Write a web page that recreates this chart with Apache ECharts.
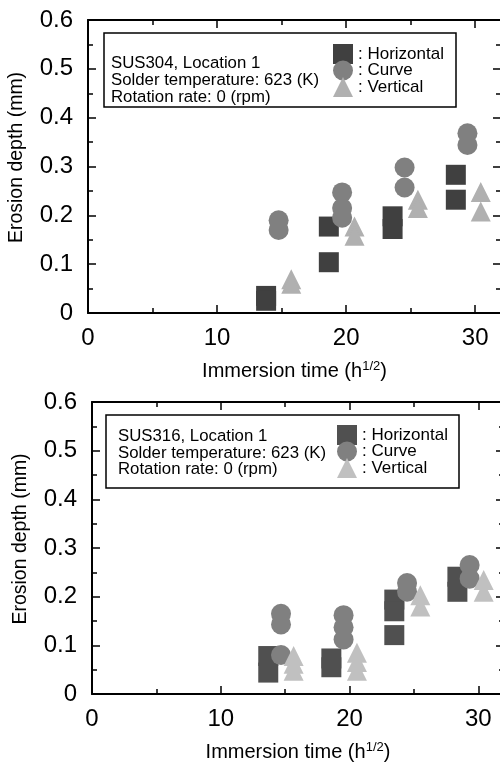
<!DOCTYPE html>
<html>
<head>
<meta charset="utf-8">
<script src="https://cdn.jsdelivr.net/npm/echarts@6/dist/echarts.min.js"></script>
<style>
html,body{margin:0;padding:0;background:#fff;}
#chart{width:500px;height:765px;}
</style>
</head>
<body>
<div id="chart"></div>
<script>
// ---- data (x: immersion time h^1/2, y: erosion depth mm) ----
const seriesNames = ['Horizontal', 'Curve', 'Vertical'];
const panelTitles = ['SUS304', 'SUS316'];
const xTickLabels = ['0', '10', '20', '30'];
const yTickLabels = ['0', '0.1', '0.2', '0.3', '0.4', '0.5', '0.6'];

const sus304Horizontal = [[13.8,0.035],[13.8,0.025],[18.66,0.177],[18.66,0.104],[23.6,0.198],[23.6,0.172],[28.5,0.283],[28.5,0.232]];
const sus304Curve = [[14.77,0.19],[14.77,0.17],[19.69,0.247],[19.69,0.215],[19.69,0.195],[24.53,0.298],[24.53,0.257],[29.4,0.368],[29.4,0.344]];
const sus304Vertical = [[15.75,0.069],[15.75,0.06],[20.65,0.177],[20.65,0.158],[25.56,0.232],[25.56,0.215],[30.43,0.248],[30.43,0.208]];

const sus316Horizontal = [[13.69,0.078],[13.69,0.044],[18.59,0.073],[18.59,0.055],[23.48,0.194],[23.48,0.17],[23.48,0.121],[28.38,0.241],[28.38,0.21]];
const sus316Curve = [[14.68,0.165],[14.68,0.143],[14.68,0.08],[19.54,0.162],[19.54,0.137],[19.54,0.112],[24.47,0.228],[24.47,0.21],[29.33,0.265],[29.33,0.237]];
const sus316Vertical = [[15.66,0.078],[15.66,0.062],[15.66,0.048],[20.58,0.085],[20.58,0.066],[20.58,0.048],[25.5,0.203],[25.5,0.18],[30.42,0.234],[30.42,0.21]];

const FONT = "'Liberation Sans', Arial, sans-serif";
const grids = [
  { left: 88, top: 20, width: 413, height: 293 },
  { left: 92, top: 402, width: 412, height: 292 }
];
const X_MIN = 0, X_MAX = 32, Y_MIN = 0, Y_MAX = 0.6;

const xAxes = [], yAxes = [];
grids.forEach((g, gi) => {
  const base = { gridIndex: gi, type: 'value', min: X_MIN, max: X_MAX, splitLine: { show: false } };
  xAxes.push(Object.assign({}, base, {
    position: 'bottom', interval: 10,
    axisLine: { onZero: false, lineStyle: { color: '#000', width: 2 } },
    axisTick: { inside: true, length: 8, lineStyle: { color: '#000', width: 1.5 } },
    axisLabel: { margin: 13, fontSize: 24, color: '#000', fontFamily: FONT, showMaxLabel: false,
      formatter: v => (xTickLabels.indexOf(String(v)) >= 0 ? String(v) : '') },
    name: 'Immersion time (h{sup|1/2})', nameLocation: 'middle', nameGap: 47,
    nameTextStyle: { fontSize: 20, color: '#000', fontFamily: FONT,
      rich: { sup: { fontSize: 13, fontFamily: FONT, color: '#000', padding: [0, 0, 10, 0] } } }
  }));
  xAxes.push(Object.assign({}, base, {
    position: 'bottom', interval: 5,
    axisLine: { show: false, onZero: false },
    axisTick: { inside: true, length: 5, lineStyle: { color: '#000', width: 1.5 } },
    axisLabel: { show: false }
  }));
  xAxes.push(Object.assign({}, base, {
    position: 'top', interval: 10,
    axisLine: { onZero: false, lineStyle: { color: '#000', width: 2 } },
    axisTick: { inside: true, length: 8, lineStyle: { color: '#000', width: 1.5 } },
    axisLabel: { show: false }
  }));
  xAxes.push(Object.assign({}, base, {
    position: 'top', interval: 5,
    axisLine: { show: false, onZero: false },
    axisTick: { inside: true, length: 5, lineStyle: { color: '#000', width: 1.5 } },
    axisLabel: { show: false }
  }));

  const ybase = { gridIndex: gi, type: 'value', min: Y_MIN, max: Y_MAX, splitLine: { show: false } };
  yAxes.push(Object.assign({}, ybase, {
    position: 'left', interval: 0.1,
    axisLine: { onZero: false, lineStyle: { color: '#000', width: 2 } },
    axisTick: { inside: true, length: 8, lineStyle: { color: '#000', width: 1.5 } },
    axisLabel: { margin: 15, fontSize: 24, color: '#000', fontFamily: FONT,
      formatter: v => { const s = String(Math.round(v * 10) / 10); return yTickLabels.indexOf(s) >= 0 ? s : ''; } },
    name: 'Erosion depth (mm)', nameLocation: 'middle', nameGap: 61,
    nameTextStyle: { fontSize: 19.5, color: '#000', fontFamily: FONT, padding: [0, 0, 0, 18] }
  }));
  yAxes.push(Object.assign({}, ybase, {
    position: 'left', interval: 0.05,
    axisLine: { show: false, onZero: false },
    axisTick: { inside: true, length: 5, lineStyle: { color: '#000', width: 1.5 } },
    axisLabel: { show: false }
  }));
  yAxes.push(Object.assign({}, ybase, {
    position: 'right', interval: 0.1,
    axisLine: { onZero: false, lineStyle: { color: '#000', width: 2 } },
    axisTick: { inside: true, length: 8, lineStyle: { color: '#000', width: 1.5 } },
    axisLabel: { show: false }
  }));
  yAxes.push(Object.assign({}, ybase, {
    position: 'right', interval: 0.05,
    axisLine: { show: false, onZero: false },
    axisTick: { inside: true, length: 5, lineStyle: { color: '#000', width: 1.5 } },
    axisLabel: { show: false }
  }));
});

const panelData = [
  [sus304Horizontal, sus304Curve, sus304Vertical],
  [sus316Horizontal, sus316Curve, sus316Vertical]
];
const panelColors = [
  ['#404040', '#808080', '#b0b0b0'],
  ['#505050', '#808080', '#c0c0c0']
];
const symbols = ['rect', 'circle', 'triangle'];

const series = [];
panelData.forEach((arrs, gi) => {
  arrs.forEach((d, si) => {
    series.push({
      name: seriesNames[si] + '-' + panelTitles[gi],
      type: 'scatter',
      xAxisIndex: gi * 4, yAxisIndex: gi * 4,
      symbol: symbols[si], symbolSize: 20,
      itemStyle: { color: panelColors[gi][si], opacity: 1 },
      emphasis: { disabled: true },
      data: d
    });
  });
});

const legendPos = [{ left: 333, top: 38 }, { left: 337, top: 419 }];
const legends = panelTitles.map((t, gi) => ({
  orient: 'vertical', left: legendPos[gi].left, top: legendPos[gi].top, padding: 0,
  itemWidth: 20, itemHeight: 20, itemGap: -15.5, selectedMode: false,
  data: seriesNames.map(n => n + '-' + t),
  formatter: name => ': ' + name.split('-')[0],
  textStyle: { fontSize: 17, color: '#000', fontFamily: FONT, lineHeight: 16, padding: [16, 0, 0, 0] }
}));

const boxes = [
  { x: 104, y: 33, w: 352, h: 74, tx: 111, ty: 54.5, lh: 17,
    text: 'SUS304, Location 1\nSolder temperature: 623 (K)\nRotation rate: 0 (rpm)' },
  { x: 106, y: 415, w: 353, h: 73, tx: 118, ty: 428.5, lh: 16.5,
    text: 'SUS316, Location 1\nSolder temperature: 623 (K)\nRotation rate: 0 (rpm)' }
];
const graphics = [];
boxes.forEach(b => {
  graphics.push({ type: 'rect', shape: { x: b.x, y: b.y, width: b.w, height: b.h },
    style: { fill: 'none', stroke: '#000', lineWidth: 1.5 }, z: 10 });
  graphics.push({ type: 'text', x: b.tx, y: b.ty,
    style: { text: b.text, fontSize: 16.8, fontFamily: FONT, fill: '#000', lineHeight: b.lh }, z: 10 });
});

const chart = echarts.init(document.getElementById('chart'), null, { renderer: 'canvas' });
chart.setOption({
  animation: false,
  backgroundColor: '#fff',
  grid: grids.map(g => Object.assign({ outerBoundsMode: 'none', containLabel: false }, g)),
  xAxis: xAxes,
  yAxis: yAxes,
  legend: legends,
  graphic: graphics,
  series: series
});
</script>
</body>
</html>
